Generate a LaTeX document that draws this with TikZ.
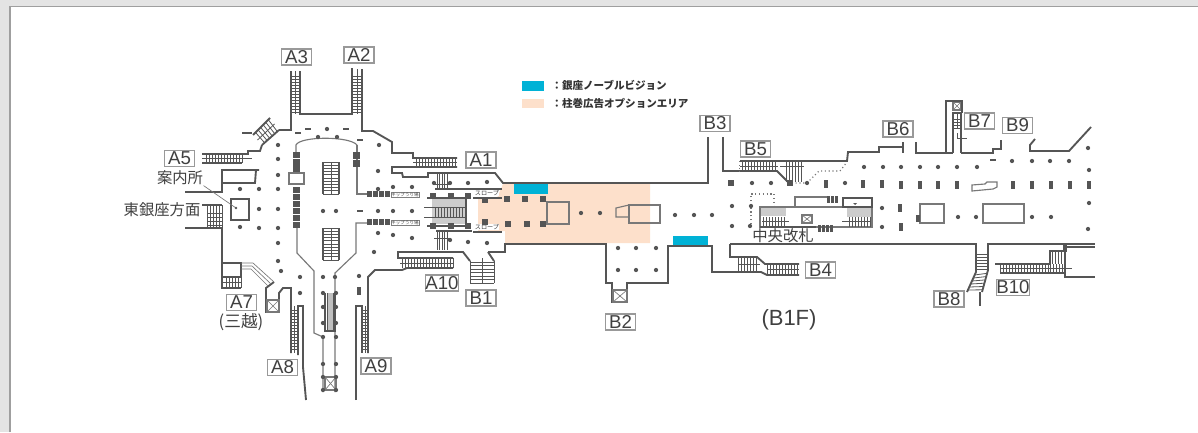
\documentclass[tikz,border=0pt]{standalone}
\usepackage{fontspec}
\usetikzlibrary{calc}
\setmainfont{Liberation Sans}
\newfontfamily\jpfont{Noto Sans CJK JP}
\definecolor{wallgray}{RGB}{85,85,85}
\definecolor{thingray}{RGB}{120,120,120}
\definecolor{areablue}{RGB}{0,178,214}
\definecolor{areapeach}{RGB}{253,224,203}
\definecolor{framegray}{RGB}{228,228,228}
\tikzset{every picture/.style={line width=0.75pt},
  wall/.style={draw=wallgray,line width=1.4pt,line join=miter},
  thinwall/.style={draw=thingray,line width=0.85pt},
  tread/.style={draw=wallgray,line width=0.6pt},
  exitlabel/.style={draw=gray!80,line width=0.8pt,fill=white,text=black!75,font=\fontsize{14}{14}\selectfont,minimum width=22.5pt,minimum height=12pt,inner sep=0pt},
  jplabel/.style={text=black!75,font=\jpfont\fontsize{11.5}{11.5}\selectfont,inner sep=0pt},
  ticketlabel/.style={draw=gray,line width=0.3pt,fill=white,text=black!70,font=\jpfont\fontsize{3.4}{3.4}\selectfont,inner sep=0.4pt},
  slopelabel/.style={fill=white,text=black!75,font=\jpfont\fontsize{4.6}{4.6}\selectfont,inner sep=0pt},
  legendtext/.style={anchor=west,text=black!80,font=\jpfont\fontsize{7.9}{7.9}\selectfont\bfseries,inner sep=0pt},
  pillar/.style={circle,fill=wallgray,inner sep=0pt,minimum size=3.2pt},
  sqpillar/.style={rectangle,fill=wallgray,inner sep=0pt,minimum size=4pt},
  barpillar/.style={rectangle,fill=wallgray,inner sep=0pt,minimum width=3.2pt,minimum height=6.5pt},
  dashpillar/.style={rectangle,fill=wallgray,inner sep=0pt,minimum width=4pt,minimum height=1.6pt}
}
% treads: x0,y0,x1,y1,next
\newcommand{\vtreads}[5]{\foreach \tx in {#1,#5,...,#3} \draw[tread] (\tx,#2) -- (\tx,#4);}
\newcommand{\htreads}[5]{\foreach \ty in {#2,#5,...,#4} \draw[tread] (#1,\ty) -- (#3,\ty);}
\begin{document}
\begin{tikzpicture}[x=0.75pt,y=0.75pt,yscale=-1,xscale=1]
	\useasboundingbox (0,0) rectangle (1198,432);
	% frame
	\fill[framegray] (0,0) rectangle (1198,432);
	\fill[white] (11,7) rectangle (1198,432);
	\draw[gray!75,line width=1.1pt] (10,432) -- (10,6.5) -- (1198,6.5);

	% areas
	\fill[areapeach] (503,184) -- (650,184) -- (650,243) -- (505,243) -- (505,231) -- (478,231) -- (478,198) -- (497,198) -- cycle;
	\fill[areablue] (514,184) rectangle (548,194);
	\fill[areablue] (673,236) rectangle (708,245);

	% west end walls
	\draw[wall] (291,71) -- (291,130) -- (279,130);
	\draw[wall] (300,71) -- (300,114) -- (352,114) -- (352,68);
	\draw[wall] (362,69) -- (362,131) -- (373,131) -- (392,142) -- (392,153) -- (413,153) -- (413,158) -- (457,158);
	\draw[wall] (457,167) -- (392,167) -- (392,173) -- (402,173) -- (403,177) -- (428,177) -- (428,173) -- (495,173) -- (503,183) -- (708,183) -- (708,137);
	\draw[wall] (242,133) -- (252,133);
	\draw[wall] (202,154) -- (248,154) -- (248,151) -- (260,151) -- (262,145);
	\draw[wall] (202,163) -- (242,163);
	\draw[wall] (259,170) -- (222,170) -- (222,183) -- (255,183) -- (256,170);
	\draw[wall] (185,192) -- (222,192) -- (222,183);
	\draw[wall] (202,205) -- (222,205);
	\draw[wall] (185,228) -- (222,228) -- (222,288) -- (241,288);
	\draw[wall] (222,263) rectangle (241,277);
	\draw[wall] (231,199) rectangle (249,220);
	\draw[wall] (274,282) -- (266,288) -- (266,312) -- (279,312) -- (279,293) -- (283,288) -- (291,288) -- (291,353);
	\draw[wall] (298,355) -- (298,306) -- (303,306) -- (303,367) -- (306,400);
	\draw[wall] (356,400) -- (356,306) -- (362,306) -- (362,353);
	\draw[wall] (368,353) -- (368,277) -- (375,270) -- (402,270) -- (407,268) -- (453,268);
	\draw[wall] (453,258) -- (398,258) -- (398,252) -- (463,252) -- (470,261);
	\draw[wall] (488,252) -- (505,252) -- (505,244) -- (606,244) -- (606,283) -- (612,283) -- (612,302) -- (627,302) -- (627,283) -- (668,283) -- (668,246) -- (712,246) -- (712,272) -- (738,272);
	\draw[wall] (488,252) -- (494,261);
	% inner thin walls
	\draw[thinwall] (357,145) -- (357,194) -- (367,194);
	\draw[thinwall] (296,152) -- (296,145) .. controls (300,136) and (350,136) .. (357,145);
	\draw[thinwall] (297,227) -- (297,253) -- (314,271) -- (314,333) -- (323,337) -- (323,392);
	\draw[thinwall] (367,223) -- (356,223) -- (356,253) -- (335,273) -- (335,392);
	% A7 ramp lines
	\draw[thingray,line width=0.5pt] (241,263) -- (253,263) -- (274,282);
	\draw[thingray,line width=0.5pt] (241,266) -- (252,266) -- (271,284);
	\draw[thingray,line width=0.5pt] (241,269) -- (251,269) -- (268,286);

	% stairs A3 A2 A8 A9
	\htreads{291}{76}{300}{114}{79}
	\htreads{352}{76}{362}{114}{79}
	\htreads{291}{310}{298}{350}{313}
	\htreads{362}{310}{368}{350}{313}
	\draw[tread] (295.5,71) -- (295.5,114);
	\draw[tread] (357,69) -- (357,114);
	\draw[tread] (294.5,306) -- (294.5,353);
	\draw[tread] (365,306) -- (365,353);
	% stairs A5, east ginza, A7
	\vtreads{206}{154}{242}{163}{209}
	\draw[tread] (202,158.5) -- (252,158.5);
	\vtreads{207}{205}{222}{228}{210}
	\htreads{207}{213}{222}{225}{217}
	\vtreads{226}{277}{241}{288}{229}
	\draw[tread] (222,282) -- (241,282);
	% corner stair
	\draw[wall] (253,135) -- (270,118);
	\draw[wall] (279,130) -- (262,145);
	\foreach \st in {0.15,0.3,...,0.95}
		\draw[tread] ($(253,135)!\st!(270,118)$) -- ($(262,145)!\st!(279,130)$);
	\draw[tread] ($(253,135)!0.5!(262,145)$) -- ($(270,118)!0.5!(279,130)$);
	% centre stairs
	\foreach \cy/\cyn/\cye in {162/165.2/194,228/231.2/260}{
		\draw[wall] (323,\cy) -- (323,\cye);
		\draw[wall] (339,\cy) -- (339,\cye);
		\htreads{323}{\cy}{339}{\cye}{\cyn}
		\draw[tread] (331,\cy) -- (331,\cye);
	}
	% escalator
	\fill[gray!50] (327,293) rectangle (333,330);
	\draw[wall] (325,293) -- (325,331) -- (335,331) -- (335,293);
	\draw[tread] (327,293) -- (327,331);
	\draw[tread] (333,293) -- (333,331);

	% stairs A1 A10 B1
	\vtreads{416}{158}{457}{167}{419}
	\draw[tread] (413,162.5) -- (457,162.5);
	\vtreads{437}{174}{449}{188}{439.5}
	\draw[tread] (434,184) -- (450,184);
	\vtreads{437}{232}{449}{250}{439.5}
	\draw[tread] (434,238) -- (450,238);
	\vtreads{402}{258}{453}{268}{405}
	\draw[tread] (400,263) -- (453,263);
	\htreads{470}{262}{494}{283}{265.5}
	\draw[tread] (482,258) -- (482,283);
	\draw[tread] (470,261) -- (470,283);
	\draw[tread] (494,261) -- (494,283);

	% gate corridor
	\fill[gray!40] (432,198) rectangle (466,224);
	\draw[wall] (466,198) -- (466,226);
	\draw[wall,line width=0.8pt] (435,189) -- (502,189);
	\draw[wall,line width=0.8pt] (427,198) -- (465,198);
	\draw[wall,line width=0.8pt] (473,198) -- (502,198);
	\draw[wall,line width=0.8pt] (427,226) -- (465,226);
	\draw[wall,line width=0.8pt] (473,232) -- (502,232);
	\draw[wall,line width=0.8pt] (436,231) -- (472,231);
	\draw[tread] (424,207) -- (465,207);
	\draw[tread] (424,217) -- (465,217);
	\vtreads{435}{208}{462}{217}{438}
	\node[slopelabel] (slopeup) at (487,193) {スロープ};
	\node[slopelabel] (slopedown) at (487,227) {スロープ};

	% ticket gates
	\foreach \gx in {367,373,379,385}{
		\fill[wallgray] (\gx,191) rectangle (\gx+5,197);
		\fill[wallgray] (\gx,219) rectangle (\gx+5,225);
	}
	\node[ticketlabel] (ticketup) at (405,194.5) {キップうり場};
	\node[ticketlabel] (ticketdown) at (405,222.5) {キップうり場};
	% west gate column
	\foreach \gy in {152,159,187,194,201,208,215,222}
		\fill[wallgray] (293,\gy) rectangle (300,\gy+5.5);
	\foreach \gy in {164,176}
		\fill[wallgray] (293,\gy) rectangle (300,\gy+8);
	\draw[thinwall,fill=white] (289,173) rectangle (304,184);
	\foreach \gy in {152,160}
		\fill[wallgray] (353,\gy) rectangle (360,\gy+7);

	% crossed boxes
	\foreach \bx/\by/\bw/\bh in {267/300/12/12,613/290/14/12,325/377/11/13,802/215/10/8,953/102/8/8}{
		\draw[thinwall] (\bx,\by) rectangle (\bx+\bw,\by+\bh);
		\draw[thinwall,line width=0.5pt] (\bx,\by) -- (\bx+\bw,\by+\bh);
		\draw[thinwall,line width=0.5pt] (\bx,\by+\bh) -- (\bx+\bw,\by);
	}

	% central concourse boxes
	\draw[thinwall,line width=1.1pt] (547,202) rectangle (569,224);
	\draw[thinwall] (629,205) rectangle (660,223);
	\draw[thinwall] (629,205) -- (616,208) -- (616,217) -- (629,217);

	% east walls
	\draw[wall] (723,137) -- (723,171) -- (777,171) -- (788,182);
	\draw[wall] (740,161) -- (847,161) -- (848,152) -- (879,152) -- (879,147) -- (903,147);
	\draw[wall] (903,142) -- (903,153);
	\draw[wall] (916,142) -- (916,153) -- (953,153);
	\draw[wall] (946,153) -- (946,101) -- (962,101) -- (962,113);
	\draw[wall,line width=1pt] (953,153) -- (953,113) -- (961,113) -- (961,153);
	\draw[wall] (961,153) -- (993,153) -- (993,149) -- (1001,149) -- (1001,140);
	\draw[wall] (1035,139) -- (1030,145) -- (1030,151) -- (1069,151) -- (1091,127);
	\draw[wall] (730,244) -- (976,244) -- (976,253);
	\draw[wall] (730,244) -- (730,257) -- (757,257) -- (765,264) -- (799,264);
	\draw[wall] (738,272) -- (761,272) -- (767,275) -- (799,275);
	\draw[wall] (988,253) -- (988,244) -- (1095,244);
	\draw[wall,line width=0.8pt] (1065,247) -- (1095,247);
	\draw[wall,line width=0.8pt] (1065,244) -- (1065,277) -- (1095,277);
	\draw[wall] (995,264) -- (1050,264) -- (1050,251) -- (1064,251);
	\draw[wall] (1000,273) -- (1064,273);
	% B8 stair
	\draw[wall] (976,253) -- (976,272) -- (967,292);
	\draw[wall] (988,253) -- (988,270) -- (982,292);
	\draw[wall] (980,292) -- (980,306);
	\htreads{976}{254}{988}{270}{257}
	\foreach \st in {0.15,0.3,...,0.95}
		\draw[tread] ($(976,272)!\st!(967,292)$) -- ($(988,270)!\st!(982,292)$);
	% B4 B5 B10 B7 stairs
	\vtreads{738}{257}{757}{272}{741}
	\draw[tread] (738,264.5) -- (760,264.5);
	\vtreads{767}{264}{799}{275}{770}
	\draw[tread] (767,269.5) -- (799,269.5);
	\draw[thinwall,line width=0.5pt,dotted] (739,172) -- (739,161);
	\vtreads{742}{161}{777}{171}{745}
	\draw[tread] (740,166) -- (778,166);
	\vtreads{786}{161}{802}{182}{789}
	\draw[tread] (780,166) -- (804,166);
	\vtreads{1000}{264}{1050}{273}{1003}
	\draw[tread] (1000,268.5) -- (1072,268.5);
	\vtreads{1050}{264}{1064}{273}{1053}
	\vtreads{1052}{251}{1064}{264}{1055}
	\htreads{953}{119}{961}{130}{122}
	\draw[tread] (957,133) -- (957,138) -- (967,138);
	\draw[tread] (957,113) -- (957,128);

	% central gates east
	\draw[thinwall,line width=1.1pt] (760,207) rectangle (872,227);
	\fill[gray!40] (761,208) rectangle (786,216);
	\fill[gray!40] (847,208) rectangle (871,217);
	\vtreads{763}{217}{785}{227}{766}
	\vtreads{849}{217}{871}{227}{852}
	\draw[tread] (762,221) -- (789,221);
	\draw[tread] (842,221) -- (871,221);
	\draw[wall,line width=1pt] (843,198) rectangle (872,207);
	\fill[wallgray] (853,203) -- (857,203) -- (855,205) -- cycle;
	\draw[thinwall] (786,207) -- (795,207) -- (795,197) -- (827,197);
	\draw[wall] (760,227) -- (816,227);
	\draw[thinwall] (833,227) -- (847,227);
	\foreach \gx in {827,831,835}
		\fill[wallgray] (\gx,196) rectangle (\gx+3.2,203);
	\foreach \gx in {818,822,826,830}
		\fill[wallgray] (\gx,225) rectangle (\gx+3.2,232);
	\draw[thinwall,dotted] (751,224) -- (751,194) -- (774,194) -- (774,207);
	\draw[thinwall,dotted] (788,183) -- (807,183) -- (819,171) -- (840,171) -- (847,162);

	% east boxes
	\draw[thinwall] (920,204) rectangle (944,223);
	\fill[wallgray] (916,215) rectangle (920,222);
	\draw[thinwall] (983,204) rectangle (1024,223);
	\draw[thinwall] (972,185) -- (972,191) -- (993,189) -- (997,187) -- (997,182) -- (987,182) -- (985,184) -- cycle;

	% pillars
	\foreach \px/\py in {278/145,278/159,278/175,278/189,240/189,259/189,259/209,278/209,240/227,259/228,278/228,278/243,278/261,281/271,300/277,300/293,
		327/129,318/137,337/137,379/145,378/171,378/189,393/187,412/187,323/211,336/211,378/211,393/211,412/211,378/233,393/235,412/238,374/252,
		323/277,335/277,359/276,323/293,336/293,323/307,336/307,323/323,336/323,323/337,336/337,323/364,336/364,323/377,336/377,323/390,336/390,
		434/183,450/183,468/183,487/182,450/240,468/242,487/243,581/213,600/213,675/215,694/215,712/215,
		618/248,636/248,656/248,618/270,636/270,656/270,
		752/183,771/183,807/183,845/183,864/167,883/167,901/167,920/167,938/167,957/167,977/167,
		732/206,751/206,732/226,750/226,882/208,882/227,958/217,976/217,1032/217,1051/217,
		1012/161,1032/161,1050/161,1069/161,1088/148,1089/170,1089/203,1088/229}
		\node[pillar] at (\px,\py) {};
	\foreach \px/\py in {433/196,451/196,468/196,433/226,451/226,468/226,485/200,507/199,525/199,543/199,485/222,508/224,527/224,543/224,731/183,790/183}
		\node[sqpillar] at (\px,\py) {};
	\foreach \px/\py in {359/291,826/184,863/184,882/184,901/185,920/185,938/185,957/185,1013/185,1032/185,1051/185,1070/185,1089/185,900/208,901/227,1065/248}
		\node[barpillar] at (\px,\py) {};
	\foreach \px/\py in {298/133,308/129,346/129,360/140,360/211,993/160}
		\node[dashpillar] at (\px,\py) {};

	% leader
	\node[jplabel] (infolabel) at (180,178) {案内所};
	\coordinate (infospot) at (236,208);
	\draw[thingray,line width=0.5pt] (infolabel.south east) -- (infospot);
	\node[pillar,minimum size=2pt] at (infospot) {};

	% exit labels
	\foreach \ename/\ex/\ey in {A3/296.5/57,A2/359/55,A5/179.5/158.5,A7/241.5/302.5,A8/282.5/367.5,A9/376/366,A1/481/160,A10/442/283,B1/481/298,B2/620.5/322,B3/715/123.5,B5/755.5/149,B6/898/129,B4/820.5/270,B7/979.5/121,B9/1017.5/125.5,B8/949/299,B10/1013/287.5}
		\node[exitlabel] (exit\ename) at (\ex,\ey) {\ename};
	\node[jplabel] (ginzaway) at (162,210) {東銀座方面};
	\node[jplabel,font=\jpfont\fontsize{12.5}{12.5}\selectfont] (mitsukoshi) at (241,322) {(三越)};
	\node[jplabel] (centralgate) at (783,236) {中央改札};
	\node[text=black!75,font=\fontsize{16.5}{16.5}\selectfont,inner sep=0pt] (floorname) at (789,320) {(B1F)};

	% legend
	\fill[areablue] (522,81) rectangle (544,91);
	\fill[areapeach] (522,99) rectangle (544,108);
	\node[legendtext] (legendblue) at (551,85.5) {：銀座ノーブルビジョン};
	\node[legendtext] (legendpeach) at (551,103.5) {：柱巻広告オプションエリア};
\end{tikzpicture}
\end{document}
